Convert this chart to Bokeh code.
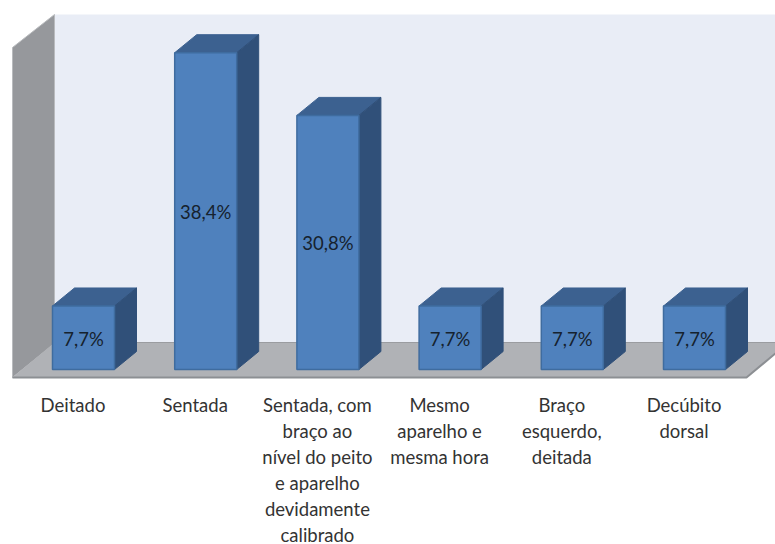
from bokeh.plotting import figure
from bokeh.embed import file_html
from bokeh.resources import INLINE
from bokeh.core.properties import value

categories = ["Deitado", "Sentada",
              "Sentada, com\nbraço ao\nnível do peito\ne aparelho\ndevidamente\ncalibrado",
              "Mesmo\naparelho e\nmesma hora", "Braço\nesquerdo,\ndeitada", "Decúbito\ndorsal"]
values = [7.7, 38.4, 30.8, 7.7, 7.7, 7.7]
value_labels = ["7,7%", "38,4%", "30,8%", "7,7%", "7,7%", "7,7%"]

# projection of the picture: px per category, px per percent, zero line, first bar
PITCH, UNIT, Y0, X0 = 122.2, 8.25, 369.0, 83.0
BAR_PX, DX_PX, DY_PX = 62.0, 22.0, 18.0
W, H = 775, 544

X = lambda px: (px - X0) / PITCH
Y = lambda px: (Y0 - px) / UNIT

p = figure(width=W, height=H, x_range=(X(0), X(W)), y_range=(Y(H), Y(0)),
           output_backend="svg", toolbar_location=None, min_border=0,
           x_axis_location=None, y_axis_location=None, outline_line_color=None)
p.grid.visible = False
p.background_fill_color = "white"
p.border_fill_color = "white"

# walls and floor
p.patch([X(54), X(790), X(790), X(54)], [Y(14), Y(14), Y(343), Y(343)],
        fill_color="#E9EDF6", line_color=None)
p.patch([X(12), X(54), X(54), X(12)], [Y(47), Y(14), Y(343), Y(377)],
        fill_color="#96989C", line_color="#B9BBBE", line_width=1)
p.patch([X(12), X(54), X(788), X(746)], [Y(377), Y(342), Y(342), Y(377)],
        fill_color="#B0B2B6", line_color=None)
p.line([X(54), X(788)], [Y(342), Y(342)], line_color="#9A9CA0", line_width=1)
p.line([X(12), X(746), X(788)], [Y(377), Y(377), Y(342)], line_color="#8C8F93", line_width=2)

# bars
half = BAR_PX / 2 / PITCH
dx, dy = DX_PX / PITCH, DY_PX / UNIT
xs = list(range(len(values)))
p.patches([[i - half, i - half + dx, i + half + dx, i + half] for i in xs],
          [[v, v + dy, v + dy, v] for v in values],
          fill_color="#3C6190", line_color="#3C6190", line_width=1)
p.patches([[i + half, i + half + dx, i + half + dx, i + half] for i in xs],
          [[0, dy, v + dy, v] for v in values],
          fill_color="#305079", line_color="#305079", line_width=1)
p.quad(left=[i - half for i in xs], right=[i + half for i in xs], bottom=0, top=values,
       fill_color="#4F81BD", line_color="#3F6C9F", line_width=1.5)

# value labels
p.text(xs, [v / 2 for v in values], text=value_labels, text_font=value("Lato"),
       text_font_size="18.5px", text_color="#16222E", text_align="center",
       text_baseline="middle", y_offset=1)

# category labels, one text per line
lx, ly, lt, lo = [], [], [], []
for i, c in enumerate(categories):
    for j, line in enumerate(c.split("\n")):
        lx.append(i); ly.append(0); lt.append(line); lo.append(35 + 26 * j)
p.text(lx, ly, text=lt, text_font=value("Lato"), text_font_size="18.5px", text_color="#333333",
       text_align="center", text_baseline="middle", x_offset=-10.5, y_offset=lo)

open("out.html", "w").write(file_html(p, INLINE))
